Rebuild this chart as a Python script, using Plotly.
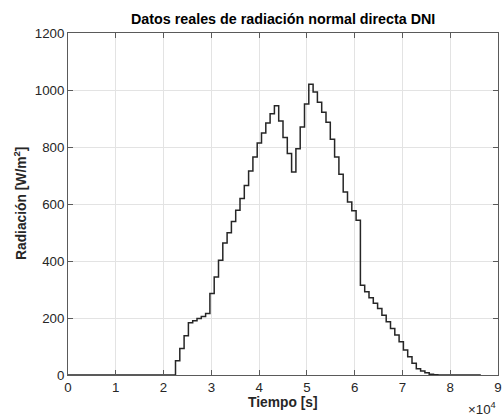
import plotly.graph_objects as go

step_seconds = 900
# radiation levels (W/m^2), one per 900 s interval starting at t = 0
zeros_before = [0] * 25
rise = [50, 93, 138, 183, 190, 198, 205, 216, 286, 344, 403, 463, 499, 539, 578,
        619, 665, 716, 765, 814, 849, 884, 917, 945]
middle = [891, 833, 777, 712, 794, 870, 951, 1020, 993, 957, 922, 887, 827, 765,
          704, 642, 607, 576, 543]
fall = [315, 292, 271, 252, 233, 210, 187, 163, 140, 117, 88, 64, 41, 22, 14, 8, 3, 1]
radiation = zeros_before + rise + middle + fall
radiation = radiation + [0] * (96 - len(radiation))
time_s = [i * step_seconds for i in range(len(radiation) + 1)]
radiation_plot = radiation + [radiation[-1]]

x_ticks = list(range(0, 10))
y_ticks = [0, 200, 400, 600, 800, 1000, 1200]

font_family = "Liberation Sans, Arial, Helvetica, sans-serif"
axis_color = "#5a5a5a"
grid_color = "#e3e3e3"
text_color = "#262626"
tick_size = 13.3
label_size = 13.8

fig = go.Figure()
fig.add_trace(go.Scatter(
    x=time_s, y=radiation_plot, mode="lines", line_shape="hv",
    line=dict(color="#262626", width=1.5), showlegend=False, hoverinfo="skip"))

fig.update_layout(
    width=503, height=416,
    margin=dict(l=68, r=1, t=33, b=41),
    paper_bgcolor="white", plot_bgcolor="white",
    font=dict(family=font_family, size=12, color=text_color),
    xaxis=dict(range=[0, 90000], tickvals=[v * 10000 for v in x_ticks],
               ticktext=[str(v) for v in x_ticks], ticklabeloverflow="allow",
               showgrid=True, gridcolor=grid_color, gridwidth=1,
               showline=True, linecolor=axis_color, linewidth=1, mirror="ticks",
               ticks="inside", ticklen=5, tickcolor=axis_color, zeroline=False,
               tickfont=dict(size=tick_size, color=text_color)),
    yaxis=dict(range=[0, 1200], tickvals=y_ticks, ticklabeloverflow="allow",
               showgrid=True, gridcolor=grid_color, gridwidth=1,
               showline=True, linecolor=axis_color, linewidth=1, mirror="ticks",
               ticks="inside", ticklen=5, tickcolor=axis_color, zeroline=False,
               tickfont=dict(size=tick_size, color=text_color)),
    annotations=[
        dict(text="<b>Datos reales de radiación normal directa DNI</b>",
             xref="paper", yref="paper", x=0.5, y=1, yshift=14,
             xanchor="center", yanchor="middle", showarrow=False,
             font=dict(size=14.3, color="black")),
        dict(text="<b>Tiempo [s]</b>", xref="paper", yref="paper", x=0.5, y=0,
             yshift=-27, xanchor="center", yanchor="middle", showarrow=False,
             font=dict(size=label_size, color=text_color)),
        dict(text="<b>Radiación [W/m<sup>2</sup>]</b>", xref="paper", yref="paper",
             x=0, y=0.5, xshift=-48, xanchor="center", yanchor="middle",
             textangle=-90, showarrow=False, font=dict(size=label_size, color=text_color)),
        dict(text="×10<sup>4</sup>", xref="paper", yref="paper", x=1, y=0,
             yshift=-33, xanchor="right", yanchor="middle", showarrow=False,
             font=dict(size=13.3, color=text_color)),
    ],
)

fig.write_html("out.html", config={"displayModeBar": False},
               post_script="document.body.style.margin='0';document.body.style.padding='0';")
